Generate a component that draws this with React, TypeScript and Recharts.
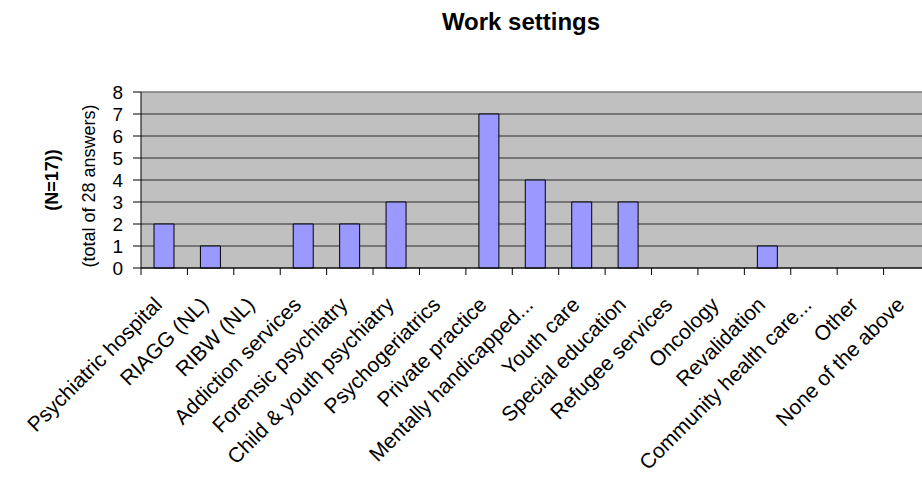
import React from 'react';
import { BarChart, Bar, XAxis, YAxis, CartesianGrid, ReferenceLine } from 'recharts';

const categories = [
  'Psychiatric hospital',
  'RIAGG (NL)',
  'RIBW (NL)',
  'Addiction services',
  'Forensic psychiatry',
  'Child & youth psychiatry',
  'Psychogeriatrics',
  'Private practice',
  'Mentally handicapped...',
  'Youth care',
  'Special education',
  'Refugee services',
  'Oncology',
  'Revalidation',
  'Community health care...',
  'Other',
  'None of the above',
];
const counts = [2, 1, 0, 2, 2, 3, 0, 7, 4, 3, 3, 0, 0, 1, 0, 0, 0];
const yTicks = [0, 1, 2, 3, 4, 5, 6, 7, 8];
const yMax = 8;
const chartTitle = 'Work settings';
const yTitleMain = '(N=17))';
const yTitleSub = '(total of 28 answers)';

const data = categories.map((name, i) => ({ name, value: counts[i] }));

const FONT = "Arial, 'Liberation Sans', sans-serif";
const CHART_W = 930;
const CHART_H = 477;
const Y_AXIS_W = 141;
const X_AXIS_H = 209;
const MARGIN = { top: 92, right: 0, bottom: 0, left: 0 };
const PLOT_W = CHART_W - Y_AXIS_W - MARGIN.left - MARGIN.right;

const XTick = (props: any) => {
  const { x, y, payload, index } = props;
  const band = PLOT_W / categories.length;
  const bx = x - band / 2;
  const tx = x - 1;
  const ty = y + 38;
  return (
    <g>
      <line x1={bx} y1={y} x2={bx} y2={y + 7} stroke="#000" strokeWidth={1} />
      {index === categories.length - 1 && (
        <line x1={x + band / 2} y1={y} x2={x + band / 2} y2={y + 7} stroke="#000" strokeWidth={1} />
      )}
      <text
        x={tx}
        y={ty}
        transform={`rotate(-45, ${tx}, ${ty})`}
        textAnchor="end"
        fontSize={21}
        fontFamily={FONT}
        fill="#000"
      >
        {payload.value}
      </text>
    </g>
  );
};

export default function App() {
  return (
    <div
      style={{
        position: 'absolute',
        left: 0,
        top: 0,
        width: 922,
        height: 477,
        overflow: 'hidden',
        background: '#fff',
      }}
    >
      <BarChart width={CHART_W} height={CHART_H} data={data} margin={MARGIN}>
        <CartesianGrid
          vertical={false}
          horizontal={true}
          stroke="#2a2a2a"
          strokeWidth={1}
          fill="#C0C0C0"
        />
        <XAxis
          dataKey="name"
          height={X_AXIS_H}
          interval={0}
          tickLine={false}
          tickSize={0}
          tickMargin={0}
          axisLine={{ stroke: '#000', strokeWidth: 1 }}
          tick={<XTick />}
        />
        <YAxis
          width={Y_AXIS_W}
          domain={[0, yMax]}
          ticks={yTicks}
          interval={0}
          allowDecimals={false}
          tickSize={8}
          tickMargin={10}
          axisLine={{ stroke: '#000', strokeWidth: 1 }}
          tickLine={{ stroke: '#000', strokeWidth: 1 }}
          tick={{ fontSize: 19, fontFamily: FONT, fill: '#000' }}
        />
        <ReferenceLine y={yMax} stroke="#A0A0A0" strokeWidth={1} />
        <Bar
          dataKey="value"
          fill="#9999FF"
          stroke="#000"
          strokeWidth={1}
          barSize={20}
          isAnimationActive={false}
        />
      </BarChart>
      <svg
        width={922}
        height={477}
        style={{ position: 'absolute', left: 0, top: 0, pointerEvents: 'none' }}
      >
        <text x={521} y={30} textAnchor="middle" fontSize={24} fontWeight="bold" fontFamily={FONT} fill="#000">
          {chartTitle}
        </text>
        <text
          x={52}
          y={180}
          transform="rotate(-90, 52, 180)"
          textAnchor="middle"
          dominantBaseline="central"
          fontSize={18}
          fontWeight="bold"
          fontFamily={FONT}
          fill="#000"
        >
          {yTitleMain}
        </text>
        <text
          x={89}
          y={186}
          transform="rotate(-90, 89, 186)"
          textAnchor="middle"
          dominantBaseline="central"
          fontSize={18}
          fontFamily={FONT}
          fill="#000"
        >
          {yTitleSub}
        </text>
      </svg>
    </div>
  );
}
